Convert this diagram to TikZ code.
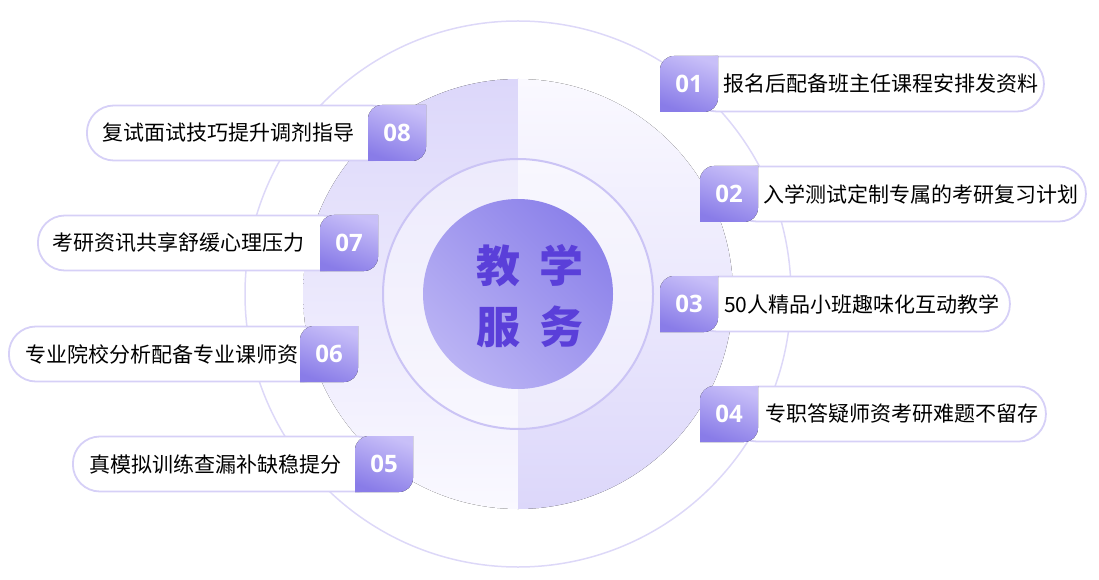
\documentclass[tikz,border=0pt]{standalone}
\usepackage{fontspec}
\usepackage{tikz}
\usetikzlibrary{positioning}
\newfontfamily\cjkfont{Noto Sans CJK SC}
\newfontfamily\numfont{Open Sans}
\definecolor{outerline}{HTML}{DDD8F8}
\definecolor{ringline}{HTML}{CBC4F5}
\definecolor{halflav}{HTML}{DCD7FA}
\definecolor{halfpale}{HTML}{FAF9FF}
\definecolor{discdark}{HTML}{8C82EA}
\definecolor{disclight}{HTML}{BAB3F4}
\definecolor{titletext}{HTML}{5A3FD9}
\definecolor{boxtop}{HTML}{C8BFF8}
\definecolor{boxbot}{HTML}{897CE8}
\definecolor{pillline}{HTML}{D6D0F7}
\tikzset{
  pill/.style={draw=pillline, line width=1.8pt, fill=white, rounded corners=27pt, minimum height=55pt, inner sep=0pt},
  num/.style={text=white, inner sep=0pt, font=\numfont\bfseries\fontsize{24pt}{26pt}\selectfont},
  lbl/.style={inner sep=0pt, anchor=west, font=\cjkfont\fontsize{21pt}{25pt}\selectfont},
  boxfill/.style={top color=boxtop, bottom color=boxbot, shading angle=-20}
}
% leaf shaped number box, centred at (#1,#2)
\newcommand{\leafbox}[2]{%
  \fill[boxfill] ({#1-29},{#2-28}) -- ({#1-29},{#2+14}) arc (180:90:14) -- ({#1+29},{#2+28})
    -- ({#1+29},{#2-14}) arc (0:-90:14) -- cycle;}

\begin{document}
\begin{tikzpicture}[x=1pt,y=1pt]
\useasboundingbox (0,0) rectangle (1099,579);

% circles
\fill[top color=halflav, bottom color=halfpale] (518,500) arc (90:270:215) -- cycle;
\fill[top color=halfpale, bottom color=halflav] (518,70) arc (-90:90:215) -- cycle;
\draw[outerline, line width=1.5pt] (518,285) circle (273);
\fill[white, opacity=0.4] (518,285) circle (135);
\draw[ringline, line width=2pt] (518,285) circle (135);
\node (core) [circle, minimum size=190pt, inner sep=0pt, top color=discdark, bottom color=disclight, shading angle=-45] at (518,285) {};
\node (title) [text=titletext, align=center, font=\cjkfont\bfseries\fontsize{44pt}{61pt}\selectfont] at (530,283) {教\hspace{19pt}学\\服\hspace{19pt}务};

% right side
\node (p01) [pill, minimum width=354pt, anchor=west] at (689,495) {};
\leafbox{689}{495}
\node (n01) [num] at (689,495) {01};
\node (t01) [lbl] at (723,495) {报名后配备班主任课程安排发资料};

\node (p02) [pill, minimum width=356pt, anchor=west] at (729,385) {};
\leafbox{729}{385}
\node (n02) [num] at (729,385) {02};
\node (t02) [lbl] at (763,385) {入学测试定制专属的考研复习计划};

\node (p03) [pill, minimum width=320pt, anchor=west] at (689,275) {};
\leafbox{689}{275}
\node (n03) [num] at (689,275) {03};
\node (t03) [lbl] at (724,275) {50人精品小班趣味化互动教学};

\node (p04) [pill, minimum width=316pt, anchor=west] at (729,165) {};
\leafbox{729}{165}
\node (n04) [num] at (729,165) {04};
\node (t04) [lbl] at (765,165) {专职答疑师资考研难题不留存};

% left side
\node (p08) [pill, minimum width=312pt, anchor=west] at (86,446) {};
\leafbox{397}{446}
\node (n08) [num] at (397,446) {08};
\node (t08) [lbl] at (102,446) {复试面试技巧提升调剂指导};

\node (p07) [pill, minimum width=312pt, anchor=west] at (37,336) {};
\leafbox{349}{336}
\node (n07) [num] at (349,336) {07};
\node (t07) [lbl] at (52,336) {考研资讯共享舒缓心理压力};

\node (p06) [pill, minimum width=321pt, anchor=west] at (8,225) {};
\leafbox{329}{225}
\node (n06) [num] at (329,225) {06};
\node (t06) [lbl] at (25,225) {专业院校分析配备专业课师资};

\node (p05) [pill, minimum width=312pt, anchor=west] at (72,115) {};
\leafbox{384}{115}
\node (n05) [num] at (384,115) {05};
\node (t05) [lbl] at (89,115) {真模拟训练查漏补缺稳提分};
\end{tikzpicture}
\end{document}
